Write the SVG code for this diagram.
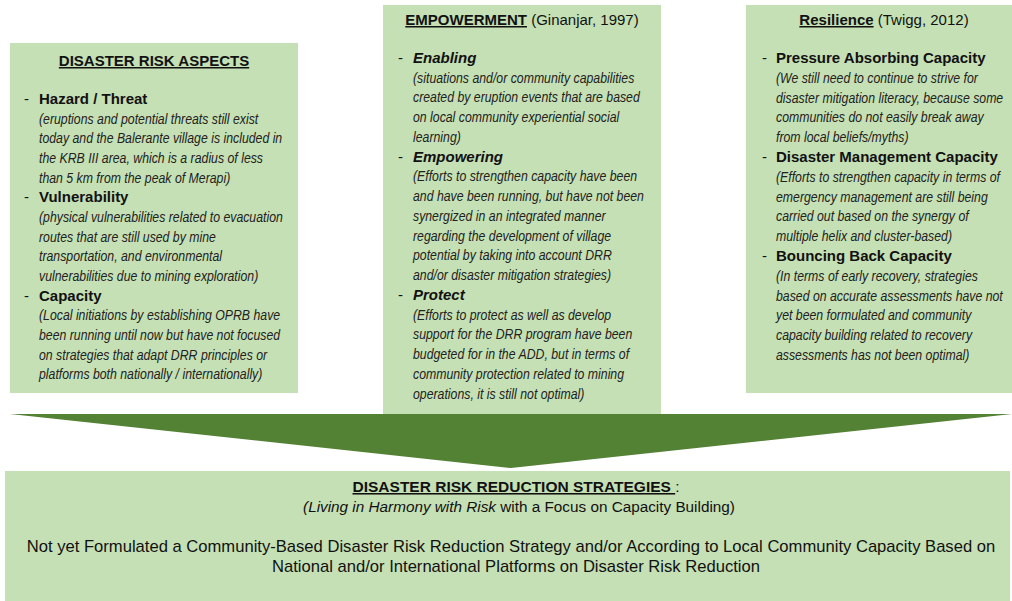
<svg xmlns="http://www.w3.org/2000/svg" width="1012" height="601" viewBox="0 0 1012 601">
  <style>
    .box { fill: #C5E0B4; }
    .arrow { fill: #548235; }
    text { font-family: "Liberation Sans", Arial, sans-serif; font-size: 15px; fill: #111; }
    .title { font-weight: bold; }
    .ul { text-decoration: underline; }
    .head { font-weight: bold; }
    .headi { font-weight: bold; font-style: italic; }
    .body text { font-style: italic; fill: #222; }
    .mid { text-anchor: middle; }
  </style>

  <!-- left column: disaster risk aspects -->
  <g id="aspects">
    <rect class="box" x="10" y="43" width="288" height="350"/>
    <text class="title ul mid" x="154" y="66">DISASTER RISK ASPECTS</text>
    <text x="24" y="104">-</text>
    <text class="head" x="39" y="104">Hazard / Threat</text>
    <text x="24" y="202.3">-</text>
    <text class="head" x="39" y="202.3">Vulnerability</text>
    <text x="24" y="300.6">-</text>
    <text class="head" x="39" y="300.6">Capacity</text>
    <!-- condensed italic notes -->
    <g class="body" transform="translate(39 0) scale(0.82 1)">
      <text x="0" y="123.6">(eruptions and potential threats still exist</text>
      <text x="0" y="143.3">today and the Balerante village is included in</text>
      <text x="0" y="163">the KRB III area, which is a radius of less</text>
      <text x="0" y="182.6">than 5 km from the peak of Merapi)</text>
      <text x="0" y="222">(physical vulnerabilities related to evacuation</text>
      <text x="0" y="241.6">routes that are still used by mine</text>
      <text x="0" y="261.3">transportation, and environmental</text>
      <text x="0" y="281">vulnerabilities due to mining exploration)</text>
      <text x="0" y="320.3">(Local initiations by establishing OPRB have</text>
      <text x="0" y="340">been running until now but have not focused</text>
      <text x="0" y="359.6">on strategies that adapt DRR principles or</text>
      <text x="0" y="379.3">platforms both nationally / internationally)</text>
    </g>
  </g>

  <!-- middle column: empowerment -->
  <g id="empowerment">
    <rect class="box" x="383" y="5" width="278" height="409"/>
    <text class="mid" x="522" y="25"><tspan class="title ul">EMPOWERMENT</tspan> (Ginanjar, 1997)</text>
    <text x="398" y="63">-</text>
    <text class="headi" x="413" y="63">Enabling</text>
    <text x="398" y="161.75">-</text>
    <text class="headi" x="413" y="161.75">Empowering</text>
    <text x="398" y="300">-</text>
    <text class="headi" x="413" y="300">Protect</text>
    <g class="body" transform="translate(413 0) scale(0.82 1)">
      <text x="0" y="82.75">(situations and/or community capabilities</text>
      <text x="0" y="102.5">created by eruption events that are based</text>
      <text x="0" y="122.25">on local community experiential social</text>
      <text x="0" y="142">learning)</text>
      <text x="0" y="181.5">(Efforts to strengthen capacity have been</text>
      <text x="0" y="201.25">and have been running, but have not been</text>
      <text x="0" y="221">synergized in an integrated manner</text>
      <text x="0" y="240.75">regarding the development of village</text>
      <text x="0" y="260.5">potential by taking into account DRR</text>
      <text x="0" y="280.25">and/or disaster mitigation strategies)</text>
      <text x="0" y="319.75">(Efforts to protect as well as develop</text>
      <text x="0" y="339.5">support for the DRR program have been</text>
      <text x="0" y="359.25">budgeted for in the ADD, but in terms of</text>
      <text x="0" y="379">community protection related to mining</text>
      <text x="0" y="398.75">operations, it is still not optimal)</text>
    </g>
  </g>

  <!-- right column: resilience -->
  <g id="resilience">
    <rect class="box" x="746" y="5" width="266" height="388"/>
    <text class="mid" x="884" y="25"><tspan class="title ul">Resilience</tspan> (Twigg, 2012)</text>
    <text x="762" y="63">-</text>
    <text class="head" x="776" y="63">Pressure Absorbing Capacity</text>
    <text x="762" y="162">-</text>
    <text class="head" x="776" y="162">Disaster Management Capacity</text>
    <text x="762" y="261">-</text>
    <text class="head" x="776" y="261">Bouncing Back Capacity</text>
    <g class="body" transform="translate(776 0) scale(0.82 1)">
      <text x="0" y="82.8">(We still need to continue to strive for</text>
      <text x="0" y="102.6">disaster mitigation literacy, because some</text>
      <text x="0" y="122.4">communities do not easily break away</text>
      <text x="0" y="142.2">from local beliefs/myths)</text>
      <text x="0" y="181.8">(Efforts to strengthen capacity in terms of</text>
      <text x="0" y="201.6">emergency management are still being</text>
      <text x="0" y="221.4">carried out based on the synergy of</text>
      <text x="0" y="241.2">multiple helix and cluster-based)</text>
      <text x="0" y="280.8">(In terms of early recovery, strategies</text>
      <text x="0" y="300.6">based on accurate assessments have not</text>
      <text x="0" y="320.4">yet been formulated and community</text>
      <text x="0" y="340.2">capacity building related to recovery</text>
      <text x="0" y="360">assessments has not been optimal)</text>
    </g>
  </g>

  <!-- wide arrow feeding the three columns into the strategy box -->
  <g id="connectors">
    <polygon class="arrow" points="10,414 1012,414 511,468"/>
  </g>

  <!-- bottom: disaster risk reduction strategies -->
  <g id="strategies">
    <rect class="box" x="5" y="471" width="1005" height="130"/>
    <text class="mid" x="516" y="492" style="font-size:15.5px"><tspan class="title ul">DISASTER RISK REDUCTION STRATEGIES </tspan>:</text>
    <text class="mid" x="519" y="512" style="font-size:15.3px"><tspan font-style="italic">(Living in Harmony with Risk</tspan> with a Focus on Capacity Building)</text>
    <text class="mid" x="511" y="552" style="font-size:16.6px">Not yet Formulated a Community-Based Disaster Risk Reduction Strategy and/or According to Local Community Capacity Based on</text>
    <text class="mid" x="516" y="572" style="font-size:16.6px">National and/or International Platforms on Disaster Risk Reduction</text>
  </g>
</svg>
